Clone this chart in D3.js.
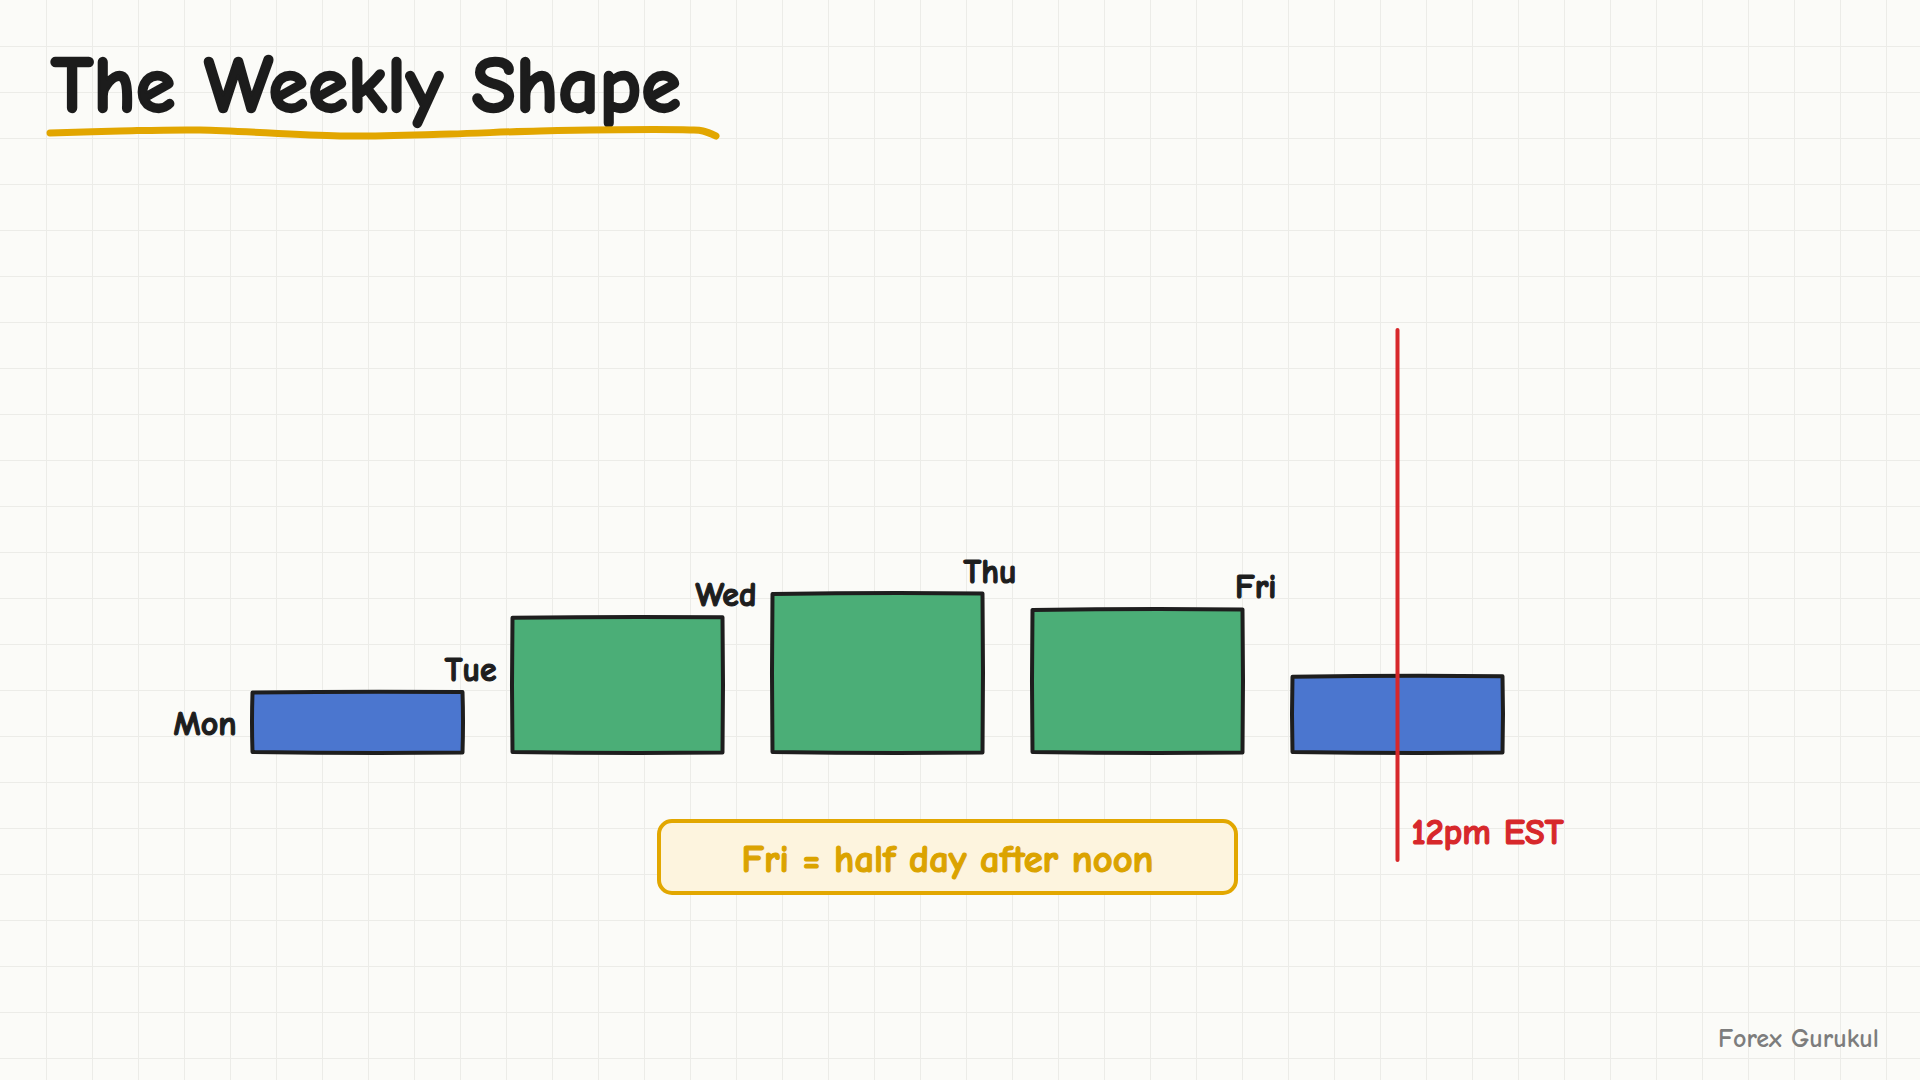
<!DOCTYPE html>
<html><head><meta charset="utf-8">
<script src="https://cdn.jsdelivr.net/npm/d3@7"></script>
<style>
html,body{margin:0;padding:0;background:#fbfbf8;}
svg{display:block;}
</style></head><body>
<svg id="chart" width="1920" height="1080"></svg>
<script>
// ---- data ----
const days = ["Mon", "Tue", "Wed", "Thu", "Fri"];
const activity = [38, 85, 100, 90, 48];
const dayType = ["quiet", "active", "active", "active", "quiet"];
const titleText = "The Weekly Shape";
const noteText = "Fri = half day after noon";
const markerDay = "Fri";
const markerText = "12pm EST";
const creditText = "Forex Gurukul";

// ---- setup ----
const W = 1920, H = 1080;
const FONT = "'Comic Sans MS','Comic Neue','Lato','Open Sans',sans-serif";
const svg = d3.select("#chart");
svg.append("rect").attr("width", W).attr("height", H).attr("fill", "#fbfbf8");

// grid
const grid = svg.append("g").attr("stroke", "#ecece8").attr("stroke-width", 1);
grid.selectAll("line.v").data(d3.range(46, W, 46)).join("line")
  .attr("x1", d => d + 0.5).attr("x2", d => d + 0.5).attr("y1", 0).attr("y2", H);
grid.selectAll("line.h").data(d3.range(46, H, 46)).join("line")
  .attr("y1", d => d + 0.5).attr("y2", d => d + 0.5).attr("x1", 0).attr("x2", W);

function fit(sel, target) {
  const n = sel.node();
  const base = parseFloat(sel.attr("font-size"));
  const len = n.getComputedTextLength();
  if (len > 0) sel.attr("font-size", (base * target / len).toFixed(2));
  return sel;
}

// title
const title = svg.append("text").attr("x", 51).attr("y", 112)
  .attr("font-family", FONT).attr("font-weight", 700).attr("font-size", 70)
  .attr("fill", "#1c1c1c").attr("stroke", "#1c1c1c").attr("stroke-width", 2.4)
  .attr("stroke-linejoin", "round").text(titleText);
fit(title, 630);

const ul = [[50,133],[120,131],[200,130],[340,136],[450,134],[540,131],[690,130],[703,131],[716,136]];
svg.append("path").attr("d", d3.line().curve(d3.curveCatmullRom)(ul))
  .attr("fill", "none").attr("stroke", "#e2a600").attr("stroke-width", 7)
  .attr("stroke-linecap", "round").attr("stroke-linejoin", "round");

// scales
const x = d3.scaleBand().domain(days).range([252.5, 1502.5]).paddingInner(50 / 260).paddingOuter(0);
const y = d3.scaleLinear().domain([0, 100]).range([752.5, 593.5]);
const color = d3.scaleOrdinal().domain(["quiet", "active"]).range(["#4b76cf", "#4bae77"]);

function sketchRect(x0, y0, w, h) {
  const x1 = x0 + w, y1 = y0 + h;
  return `M${x0},${y0 + 0.5} Q${x0 + w / 2},${y0 - 1} ${x1},${y0}` +
         ` Q${x1 + 1},${y0 + h / 2} ${x1},${y1}` +
         ` Q${x0 + w / 2},${y1 + 1} ${x0},${y1 - 0.5}` +
         ` Q${x0 - 1},${y0 + h / 2} ${x0},${y0 + 0.5} Z`;
}

const data = days.map((d, i) => ({ day: d, v: activity[i], type: dayType[i], i }));

svg.append("g").selectAll("path").data(data).join("path")
  .attr("d", d => sketchRect(x(d.day), y(d.v), x.bandwidth(), y(0) - y(d.v)))
  .attr("fill", d => color(d.type))
  .attr("stroke", "#1e1e1e").attr("stroke-width", 4).attr("stroke-linejoin", "round");

// day labels: one common size, fitted on "Mon"
const probe = svg.append("text").attr("font-family", FONT).attr("font-weight", 700)
  .attr("font-size", 30).text("Mon");
fit(probe, 63);
const labelSize = +probe.attr("font-size");
probe.remove();

svg.append("g").selectAll("text").data(data).join("text")
  .attr("x", d => x(d.day) - 16)
  .attr("y", d => d.i === 0 ? (y(d.v) + y(0)) / 2 + 13 : y(activity[d.i - 1]) - 11)
  .attr("text-anchor", "end")
  .attr("font-family", FONT).attr("font-weight", 700).attr("font-size", labelSize)
  .attr("fill", "#1e1e1e").attr("stroke", "#1e1e1e").attr("stroke-width", 1.2)
  .attr("stroke-linejoin", "round").text(d => d.day);

// marker line
const mx = x(markerDay) + x.bandwidth() / 2;
svg.append("line").attr("x1", mx).attr("x2", mx).attr("y1", 330).attr("y2", 860)
  .attr("stroke", "#d7282b").attr("stroke-width", 4).attr("stroke-linecap", "round");
const ml = svg.append("text").attr("x", mx + 14).attr("y", 844)
  .attr("font-family", FONT).attr("font-weight", 700).attr("font-size", 30)
  .attr("fill", "#d7282b").attr("stroke", "#d7282b").attr("stroke-width", 1.2)
  .attr("stroke-linejoin", "round").text(markerText);
fit(ml, 152);

// callout
svg.append("rect").attr("x", 659).attr("y", 821).attr("width", 577).attr("height", 72)
  .attr("rx", 13).attr("fill", "#fdf4de").attr("stroke", "#e2a700").attr("stroke-width", 4);
const nt = svg.append("text").attr("x", 947.5).attr("y", 872).attr("text-anchor", "middle")
  .attr("font-family", FONT).attr("font-weight", 700).attr("font-size", 30)
  .attr("fill", "#dba300").attr("stroke", "#dba300").attr("stroke-width", 1.2)
  .attr("stroke-linejoin", "round").text(noteText);
fit(nt, 412);

// credit
const cr = svg.append("text").attr("x", 1718).attr("y", 1047)
  .attr("font-family", FONT).attr("font-weight", 700).attr("font-size", 26)
  .attr("fill", "#7d7d7d").text(creditText);
fit(cr, 161);
</script>
</body></html>
